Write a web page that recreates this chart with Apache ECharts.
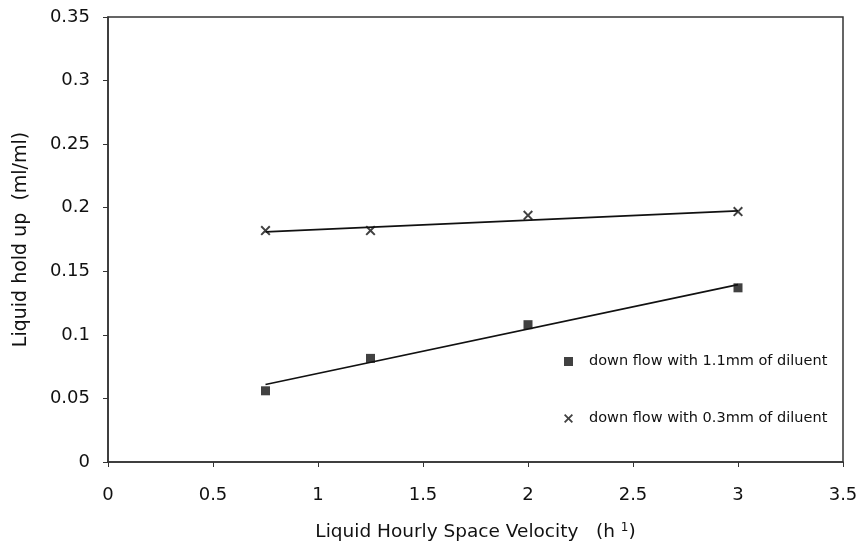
<!DOCTYPE html>
<html>
<head>
<meta charset="utf-8">
<script src="https://cdn.jsdelivr.net/npm/echarts@6/dist/echarts.min.js"></script>
<style>
html,body{margin:0;padding:0;background:#fff;}
#c{width:861px;height:559px;}
</style>
</head>
<body>
<div id="c"></div>
<script>
// Data
const lhsv = [0.75, 1.25, 2, 3];
const holdup11 = [0.056, 0.0815, 0.108, 0.137];   // 1.1 mm diluent (squares)
const holdup03 = [0.182, 0.182, 0.194, 0.197];    // 0.3 mm diluent (crosses)
const trendX = [0.75, 3];
const trend11 = [0.061, 0.1395];
const trend03 = [0.181, 0.1975];
const seriesNames = ['down flow with 1.1mm of diluent', 'down flow with 0.3mm of diluent'];

const pairs = (xs, ys) => xs.map((x, i) => [x, ys[i]]);
const crossPath = 'path://M0,1.4 L1.4,0 L5,3.6 L8.6,0 L10,1.4 L6.4,5 L10,8.6 L8.6,10 L5,6.4 L1.4,10 L0,8.6 L3.6,5 Z';
const font = 'DejaVu Sans, Liberation Sans, sans-serif';
const ink = '#111';

const chart = echarts.init(document.getElementById('c'), null, {renderer: 'canvas'});
chart.setOption({
  backgroundColor: '#fff',
  animation: false,
  textStyle: {fontFamily: font, color: ink},
  grid: {left: 108, right: 18, top: 17, bottom: 97, show: true, borderColor: '#333', borderWidth: 1.5},
  legend: {
    data: seriesNames,
    orient: 'vertical',
    left: 559, top: 349,
    itemWidth: 9, itemHeight: 9,
    itemGap: 42,
    textStyle: {fontFamily: font, fontSize: 14.5, color: ink, padding: [0, 0, 0, 11]},
    selectedMode: false
  },
  xAxis: {
    type: 'value', min: 0, max: 3.5, interval: 0.5,
    name: '{a|Liquid Hourly Space Velocity   (h }{s|1}{a|)}',
    nameLocation: 'middle', nameGap: 60,
    nameTextStyle: {rich: {
      a: {fontFamily: font, fontSize: 18.5, color: ink},
      s: {fontFamily: font, fontSize: 12, color: ink, verticalAlign: 'top', padding: [0, 0, 9, 0]}
    }},
    axisLine: {show: true, lineStyle: {color: '#333', width: 1.5}},
    axisTick: {show: true, inside: false, length: 5, lineStyle: {color: '#333'}},
    axisLabel: {fontFamily: font, fontSize: 18, color: ink, margin: 24},
    splitLine: {show: false}
  },
  yAxis: {
    type: 'value', min: 0, max: 0.35, interval: 0.05,
    name: 'Liquid hold up  (ml/ml)',
    nameLocation: 'middle', nameGap: 77,
    nameTextStyle: {fontFamily: font, fontSize: 19, color: ink},
    axisLine: {show: true, lineStyle: {color: '#333', width: 1.5}},
    axisTick: {show: true, inside: false, length: 5, lineStyle: {color: '#333'}},
    axisLabel: {fontFamily: font, fontSize: 18, color: ink, margin: 18},
    splitLine: {show: false}
  },
  series: [
    {
      name: seriesNames[0], type: 'scatter', symbol: 'rect', symbolSize: 9,
      itemStyle: {color: '#111'},
      data: pairs(lhsv, holdup11), z: 5
    },
    {
      name: seriesNames[1], type: 'scatter', symbol: crossPath, symbolSize: 10,
      itemStyle: {color: '#111'},
      data: pairs(lhsv, holdup03), z: 5
    },
    {
      type: 'line', showSymbol: false, symbol: 'none',
      lineStyle: {color: '#111', width: 1.6},
      data: pairs(trendX, trend11), silent: true
    },
    {
      type: 'line', showSymbol: false, symbol: 'none',
      lineStyle: {color: '#111', width: 1.6},
      data: pairs(trendX, trend03), silent: true
    }
  ]
});
</script>
</body>
</html>
